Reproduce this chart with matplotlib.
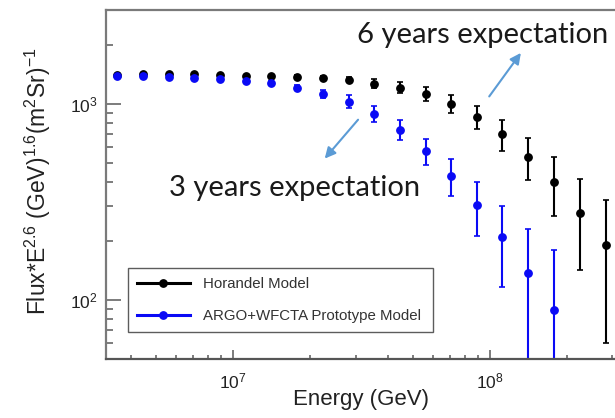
import numpy as np
import matplotlib
matplotlib.use('Agg')
import matplotlib.pyplot as plt
from matplotlib.lines import Line2D
from matplotlib.ticker import LogLocator, NullFormatter

plt.rcParams['font.family'] = ['Liberation Sans', 'DejaVu Sans']
plt.rcParams['mathtext.fontset'] = 'custom'
plt.rcParams['mathtext.rm'] = 'Liberation Sans'
plt.rcParams['mathtext.it'] = 'Liberation Sans:italic'

# energy bins (GeV)
energy = [3.55e6, 4.47e6, 5.62e6, 7.08e6, 8.91e6, 1.12e7, 1.41e7, 1.78e7, 2.24e7, 2.82e7,
          3.55e7, 4.47e7, 5.62e7, 7.08e7, 8.91e7, 1.12e8, 1.41e8, 1.78e8, 2.24e8, 2.82e8]

horandel_flux = [1405, 1410, 1410, 1415, 1395, 1390, 1388, 1374, 1358, 1326,
                 1265, 1207, 1125, 1000, 858, 703, 537, 400, 278, 191]
horandel_err = [8, 8, 9, 10, 12, 14, 17, 22, 30, 40,
                66, 78, 92, 105, 115, 126, 128, 132, 136, 131]

argo_flux = [1390, 1390, 1374, 1358, 1341, 1310, 1280, 1207, 1125, 1024,
             889, 736, 576, 430, 305, 209, 137, 89]
argo_err = [10, 12, 14, 16, 18, 22, 28, 38, 55, 78,
            84, 87, 88, 92, 94, 93, 93, 91]

BLUE = '#0a0af5'

fig = plt.figure(figsize=(6.15, 4.18), dpi=100)
ax = fig.add_axes([106/615, 59/418, 538/615, 349/418])

e_b = np.array(energy)
f_b = np.array(horandel_flux)
err_b = np.array(horandel_err)
e_a = np.array(energy[:len(argo_flux)])
f_a = np.array(argo_flux)
err_a = np.array(argo_err)

ax.errorbar(e_b, f_b, yerr=err_b, fmt='o', color='black', ms=5.3, elinewidth=1.5,
            capsize=2, capthick=1.2)
ax.errorbar(e_a, f_a, yerr=[np.minimum(err_a, f_a * 0.99), err_a], fmt='o', color=BLUE,
            ms=5.3, elinewidth=1.5, capsize=2, capthick=1.2)

ax.set_xscale('log')
ax.set_yscale('log')
ax.set_xlim(10**6.506, 10**8.6)
ax.set_ylim(50, 3000)

for side in ['left', 'bottom', 'top', 'right']:
    ax.spines[side].set_color('#7a7a7a')
    ax.spines[side].set_linewidth(1.6)
ax.spines['bottom'].set_color('#555555')

ax.tick_params(axis='both', which='both', direction='in', colors='#666666',
               labelcolor='#222222', top=False, right=False)
ax.tick_params(axis='y', which='major', length=11, width=1.2, labelsize=12.5, pad=6)
ax.tick_params(axis='y', which='minor', length=5, width=1.2)
ax.tick_params(axis='x', which='major', length=6.5, width=1.2, labelsize=12.5, pad=9)
ax.tick_params(axis='x', which='minor', length=3, width=1.2)
ax.xaxis.set_major_locator(LogLocator(base=10))
ax.xaxis.set_minor_locator(LogLocator(base=10, subs=np.arange(2, 10)))
ax.xaxis.set_minor_formatter(NullFormatter())
ax.yaxis.set_minor_formatter(NullFormatter())

ax.set_xlabel('Energy (GeV)', fontsize=16, color='#222222')
ax.xaxis.set_label_coords(0.474, -0.085)
ax.set_ylabel(r'Flux*E$^{2.6}$ (GeV)$^{1.6}$(m$^{2}$Sr)$^{-1}$', fontsize=16.5, color='#222222')
ax.yaxis.set_label_coords(-0.098, 0.51)

handles = [Line2D([], [], color='black', marker='o', ms=5.3, lw=2.2),
           Line2D([], [], color=BLUE, marker='o', ms=5.3, lw=2.2)]
leg = ax.legend(handles, ['Horandel Model', 'ARGO+WFCTA Prototype Model'],
                loc='lower left', bbox_to_anchor=(0.041, 0.077, 0.567, 0.18), mode='expand',
                borderaxespad=0, fontsize=10.8, frameon=True, fancybox=False,
                handlelength=3.5, handletextpad=0.9, labelspacing=1.2, borderpad=0.6)
leg.get_frame().set_edgecolor('#333333')
leg.get_frame().set_linewidth(1.0)
for t in leg.get_texts():
    t.set_color('#333333')

arrow_kw = dict(arrowstyle='-|>', color='#5b9bd5', lw=1.5, mutation_scale=16)
ax.annotate('', xy=(1.34e8, 1862), xytext=(9.8e7, 1060), arrowprops=arrow_kw)
ax.annotate('', xy=(2.24e7, 512), xytext=(3.12e7, 849), arrowprops=arrow_kw)
ax.text(3.04e7, 2047, '6 years expectation', fontsize=21, family='Lato', color='#1a1a1a',
        va='baseline', ha='left', clip_on=False)
ax.text(5.64e6, 340, '3 years expectation', fontsize=21, family='Lato', color='#1a1a1a',
        va='baseline', ha='left')

fig.savefig('out.png', dpi=100)
